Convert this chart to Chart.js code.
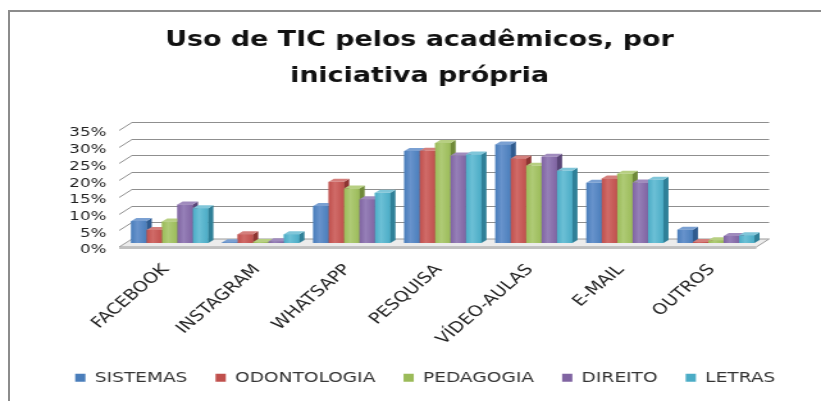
<!DOCTYPE html>
<html>
<head>
<meta charset="utf-8">
<script src="https://cdn.jsdelivr.net/npm/chart.js@4"></script>
<style>
  html, body { margin: 0; padding: 0; background: #fff; }
  #frame {
    position: absolute; left: 8px; top: 10px; width: 813px; height: 391px;
    border-left: 2px solid #8c8c8c; border-top: 2px solid #8c8c8c;
  }
  /* the source picture is stretched sideways, so the canvas is too */
  #myChart { position: absolute; left: 0; top: 0; transform: scaleX(1.2808); transform-origin: 0 0; }
</style>
</head>
<body>
<div id="frame"></div>
<canvas id="myChart" width="641" height="401"></canvas>
<script>
// data (percent)
const categories = ['FACEBOOK', 'INSTAGRAM', 'WHATSAPP', 'PESQUISA', 'VÍDEO-AULAS', 'E-MAIL', 'OUTROS']
const seriesNames = ['SISTEMAS', 'ODONTOLOGIA', 'PEDAGOGIA', 'DIREITO', 'LETRAS']
const sistemas = [6.6, 0.2, 11.1, 27.5, 29.5, 18.0, 4.0]
const odontologia = [3.9, 2.6, 18.3, 27.6, 25.3, 19.3, 0.3]
const pedagogia = [6.4, 0.3, 16.3, 29.9, 23.1, 20.7, 0.8]
const direito = [11.5, 0.5, 13.1, 26.2, 25.8, 18.1, 2.1]
const letras = [10.4, 2.6, 15.0, 26.5, 21.6, 18.9, 2.3]
const yMax = 35
const yStep = 5

// colours: front, side, top
const fronts = ['#4a7ebb', '#c0504d', '#9bbb59', '#8064a2', '#4bacc6']
const sides = ['#2f5b8f', '#8e3532', '#6f8a38', '#5a4577', '#2f8098']
const tops = ['#7aa0d2', '#d47f7c', '#b7cf82', '#a08bbd', '#80c6d9']
const lights = ['#6893cc', '#d06b68', '#afcb76', '#9680b8', '#6cc0d6']

Chart.defaults.font.family = 'DejaVu Sans'

// 3d look: walls, floor and bar faces
const faces = {
  id: 'faces',
  afterLayout(chart) {
    // legend sits a little right of the title in the source
    chart.legend.left += 4.5
    chart.legend.right += 4.5
  },
  beforeDatasetsDraw(chart) {
    const { ctx, chartArea: a, scales: { y } } = chart
    ctx.save()
    const p0 = y.getPixelForValue(0)
    // floor
    ctx.beginPath()
    ctx.moveTo(a.left - 4, p0 + 4)
    ctx.lineTo(a.right - 4, p0 + 4)
    ctx.lineTo(a.right + 6, p0 - 4)
    ctx.lineTo(a.left + 6, p0 - 4)
    ctx.closePath()
    ctx.fillStyle = '#ececec'
    ctx.fill()
    ctx.strokeStyle = '#9a9a9a'
    ctx.lineWidth = 1
    ctx.stroke()
    ctx.fillStyle = '#c0c0c0'
    ctx.fillRect(a.left - 4, p0 + 4, a.right - a.left, 2)
    // gridlines on side and back walls
    ctx.strokeStyle = '#8f8f8f'
    y.ticks.forEach(t => {
      if (t.value === 0) return
      const py = Math.round(y.getPixelForValue(t.value)) + 0.5
      ctx.beginPath()
      ctx.moveTo(a.left - 4, py + 4)
      ctx.lineTo(a.left + 6, py - 4)
      ctx.lineTo(a.right + 6, py - 4)
      ctx.stroke()
    })
    ctx.restore()
  },
  afterDatasetsDraw(chart) {
    const { ctx } = chart
    const dx = 4, dy = 3
    ctx.save()
    categories.forEach((c, j) => {
      chart.data.datasets.forEach((ds, i) => {
        const el = chart.getDatasetMeta(i).data[j]
        const { x, y, base, width } = el.getProps(['x', 'y', 'base', 'width'], true)
        const l = x - width / 2, r = x + width / 2
        // front
        const g = ctx.createLinearGradient(l, 0, r, 0)
        g.addColorStop(0, fronts[i])
        g.addColorStop(0.4, lights[i])
        g.addColorStop(1, fronts[i])
        ctx.fillStyle = g
        ctx.fillRect(l, y, width, base - y)
        // side
        ctx.fillStyle = sides[i]
        ctx.beginPath()
        ctx.moveTo(r, y)
        ctx.lineTo(r + dx, y - dy)
        ctx.lineTo(r + dx, base - dy)
        ctx.lineTo(r, base)
        ctx.closePath()
        ctx.fill()
        // top
        ctx.fillStyle = tops[i]
        ctx.beginPath()
        ctx.moveTo(l, y)
        ctx.lineTo(r, y)
        ctx.lineTo(r + dx, y - dy)
        ctx.lineTo(l + dx, y - dy)
        ctx.closePath()
        ctx.fill()
      })
    })
    ctx.restore()
  }
}

const seriesValues = [sistemas, odontologia, pedagogia, direito, letras]

const myChart = new Chart(document.querySelector('#myChart').getContext('2d'), {
  type: 'bar',
  data: {
    labels: categories,
    datasets: seriesNames.map((name, i) => ({
      label: name,
      data: seriesValues[i],
      backgroundColor: fronts[i],
      borderWidth: 0,
      categoryPercentage: 0.846,
      barPercentage: 1
    }))
  },
  options: {
    responsive: false,
    animation: false,
    layout: { padding: { left: 14, right: 0, top: 0, bottom: 6 } },
    plugins: {
      title: {
        display: true,
        text: ['Uso de TIC pelos acadêmicos, por', 'iniciativa própria'],
        color: '#111',
        font: { size: 21, weight: 'bold', lineHeight: 1.714 },
        padding: { top: 22.5, bottom: 31.5 }
      },
      legend: {
        position: 'bottom',
        labels: {
          color: '#333',
          font: { size: 14.5 },
          boxWidth: 8,
          boxHeight: 8,
          padding: 22
        }
      },
      tooltip: { enabled: false }
    },
    scales: {
      x: {
        grid: { display: false },
        border: { display: false },
        ticks: {
          color: '#222',
          font: { size: 15 },
          minRotation: 47,
          maxRotation: 47,
          autoSkip: false,
          padding: 10,
          labelOffset: -3
        },
        afterFit(s) { s.height = 105.5 }
      },
      y: {
        min: 0,
        max: yMax,
        grid: { display: false, drawTicks: false, tickLength: 0 },
        border: { display: false },
        ticks: {
          stepSize: yStep,
          autoSkip: false,
          color: '#222',
          font: { size: 13 },
          padding: 14,
          labelOffset: 7,
          callback: v => v + '%'
        },
        afterFit(s) { s.width = 83 }
      },
      y2: {
        position: 'right',
        min: 0,
        max: yMax,
        grid: { display: false },
        border: { display: false },
        ticks: { display: false },
        afterFit(s) { s.width = 46.5 }
      }
    }
  },
  plugins: [faces]
})
</script>
</body>
</html>
